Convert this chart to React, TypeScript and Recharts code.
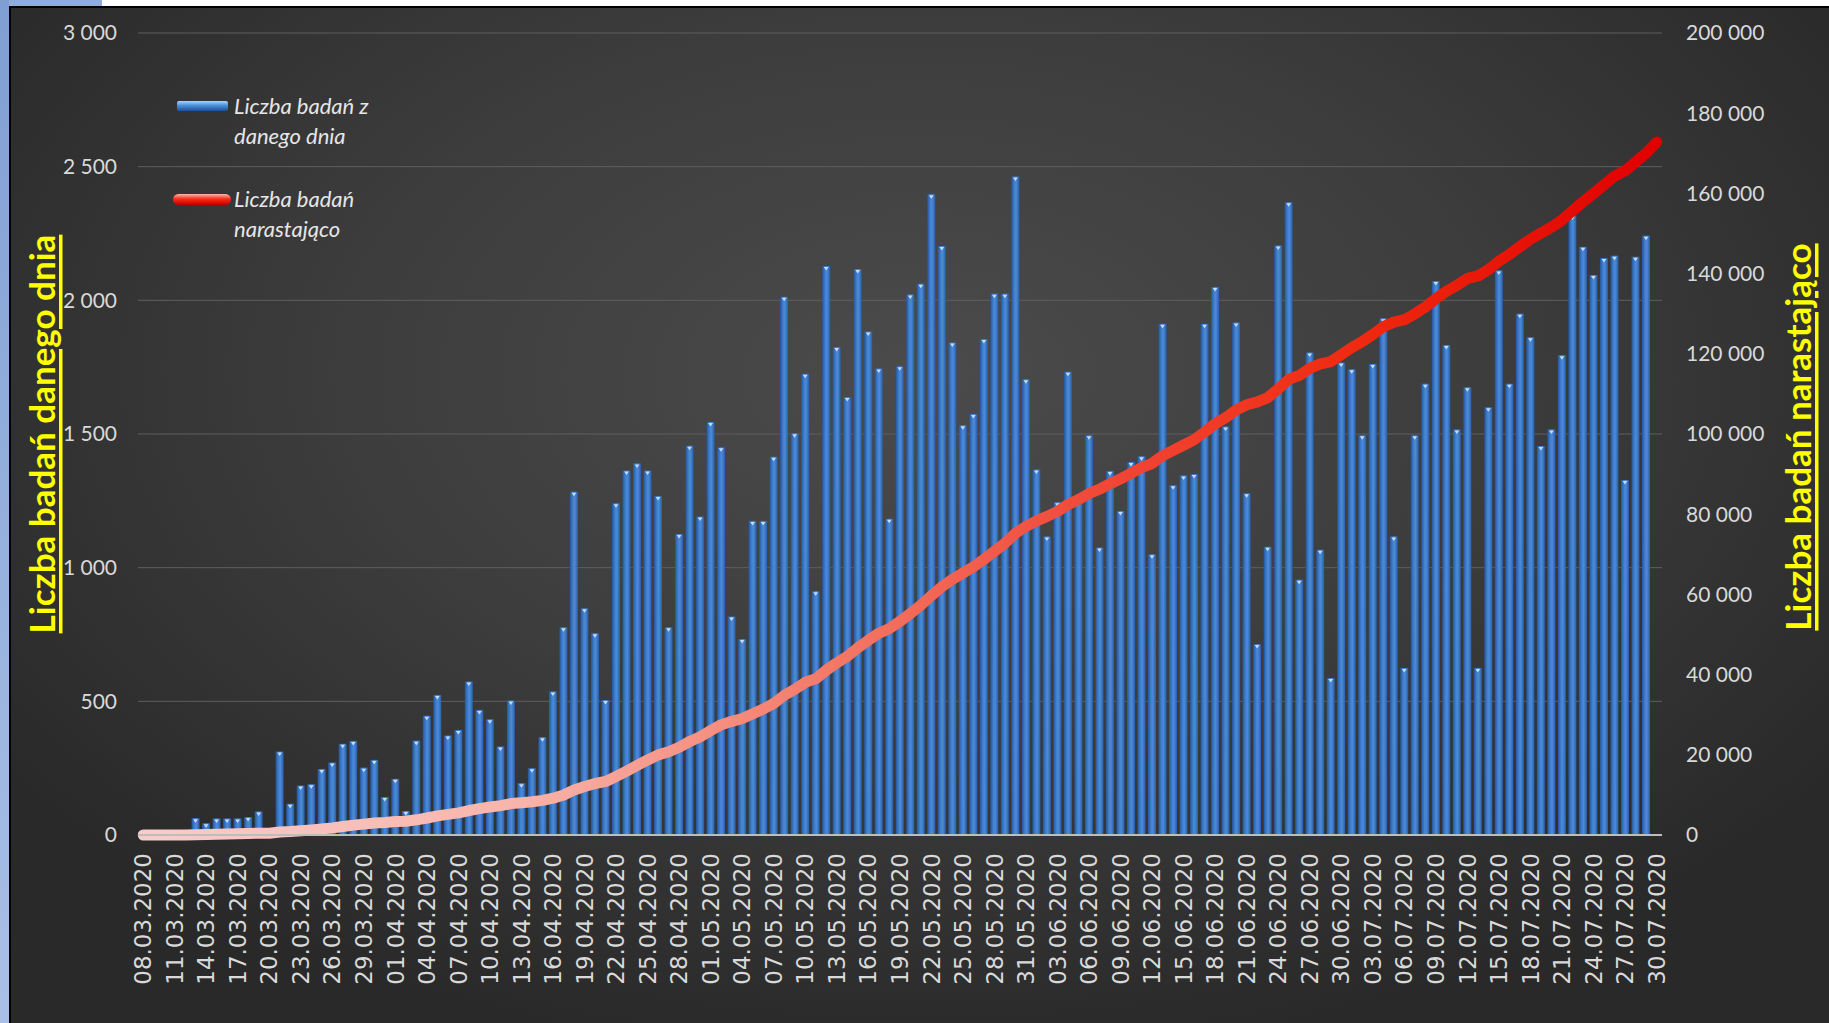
import React from 'react';
import { ComposedChart, Bar, Line, XAxis, YAxis, CartesianGrid } from 'recharts';

const W = 1829;
const H = 1023;

const datesMarch = [
  '08.03.2020', '09.03.2020', '10.03.2020', '11.03.2020', '12.03.2020', '13.03.2020', '14.03.2020', '15.03.2020',
  '16.03.2020', '17.03.2020', '18.03.2020', '19.03.2020', '20.03.2020', '21.03.2020', '22.03.2020', '23.03.2020',
  '24.03.2020', '25.03.2020', '26.03.2020', '27.03.2020', '28.03.2020', '29.03.2020', '30.03.2020', '31.03.2020',
];
const datesApril = [
  '01.04.2020', '02.04.2020', '03.04.2020', '04.04.2020', '05.04.2020', '06.04.2020', '07.04.2020', '08.04.2020',
  '09.04.2020', '10.04.2020', '11.04.2020', '12.04.2020', '13.04.2020', '14.04.2020', '15.04.2020', '16.04.2020',
  '17.04.2020', '18.04.2020', '19.04.2020', '20.04.2020', '21.04.2020', '22.04.2020', '23.04.2020', '24.04.2020',
  '25.04.2020', '26.04.2020', '27.04.2020', '28.04.2020', '29.04.2020', '30.04.2020',
];
const datesMay = [
  '01.05.2020', '02.05.2020', '03.05.2020', '04.05.2020', '05.05.2020', '06.05.2020', '07.05.2020', '08.05.2020',
  '09.05.2020', '10.05.2020', '11.05.2020', '12.05.2020', '13.05.2020', '14.05.2020', '15.05.2020', '16.05.2020',
  '17.05.2020', '18.05.2020', '19.05.2020', '20.05.2020', '21.05.2020', '22.05.2020', '23.05.2020', '24.05.2020',
  '25.05.2020', '26.05.2020', '27.05.2020', '28.05.2020', '29.05.2020', '30.05.2020', '31.05.2020',
];
const datesJune = [
  '01.06.2020', '02.06.2020', '03.06.2020', '04.06.2020', '05.06.2020', '06.06.2020', '07.06.2020', '08.06.2020',
  '09.06.2020', '10.06.2020', '11.06.2020', '12.06.2020', '13.06.2020', '14.06.2020', '15.06.2020', '16.06.2020',
  '17.06.2020', '18.06.2020', '19.06.2020', '20.06.2020', '21.06.2020', '22.06.2020', '23.06.2020', '24.06.2020',
  '25.06.2020', '26.06.2020', '27.06.2020', '28.06.2020', '29.06.2020', '30.06.2020',
];
const datesJuly = [
  '01.07.2020', '02.07.2020', '03.07.2020', '04.07.2020', '05.07.2020', '06.07.2020', '07.07.2020', '08.07.2020',
  '09.07.2020', '10.07.2020', '11.07.2020', '12.07.2020', '13.07.2020', '14.07.2020', '15.07.2020', '16.07.2020',
  '17.07.2020', '18.07.2020', '19.07.2020', '20.07.2020', '21.07.2020', '22.07.2020', '23.07.2020', '24.07.2020',
  '25.07.2020', '26.07.2020', '27.07.2020', '28.07.2020', '29.07.2020', '30.07.2020',
];

// Liczba badań z danego dnia
const dailyMarch = [0, 0, 0, 0, 0, 63, 44, 62, 62, 62, 67, 88, 0, 312, 117, 185, 190, 247, 271, 341, 352, 252, 281, 142];
const dailyApril = [
  210, 90, 353, 446, 524, 372, 393, 574, 468, 433, 331, 503, 194, 250, 366, 537, 777, 1284, 848, 755,
  505, 1241, 1363, 1390, 1363, 1268, 777, 1126, 1456, 1191,
];
const dailyMay = [
  1545, 1450, 817, 733, 1175, 1175, 1415, 2013, 1503, 1725, 912, 2128, 1825, 1638, 2117, 1883, 1745, 1183, 1753, 2022,
  2062, 2397, 2203, 1842, 1533, 1575, 1855, 2025, 2025, 2463, 1705,
];
const dailyJune = [
  1367, 1117, 1245, 1733, 1255, 1495, 1075, 1362, 1212, 1395, 1417, 1050, 1912, 1308, 1345, 1350, 1912, 2050, 1528, 1917,
  1278, 714, 1078, 2205, 2367, 955, 1805, 1067, 587, 1767,
];
const dailyJuly = [
  1742, 1495, 1762, 1933, 1117, 625, 1495, 1688, 2072, 1833, 1517, 1675, 625, 1600, 2112, 1688, 1950, 1862, 1455, 1517,
  1795, 2317, 2200, 2095, 2158, 2167, 1328, 2163, 2242, null,
];

// Liczba badań narastająco
const totalMarch = [0, 0, 0, 0, 0, 63, 107, 169, 231, 293, 360, 448, 448, 760, 877, 1062, 1252, 1499, 1770, 2111, 2463, 2715, 2996, 3138];
const totalApril = [
  3348, 3438, 3791, 4237, 4761, 5133, 5526, 6100, 6568, 7001, 7332, 7835, 8029, 8279, 8645, 9182, 9959, 11243, 12091, 12846,
  13351, 14592, 15955, 17345, 18708, 19976, 20753, 21879, 23335, 24526,
];
const totalMay = [
  26071, 27521, 28338, 29071, 30246, 31421, 32836, 34849, 36352, 38077, 38989, 41117, 42942, 44580, 46697, 48580, 50325,
  51508, 53261, 55283, 57345, 59742, 61945, 63787, 65320, 66895, 68750, 70775, 72800, 75263, 76968,
];
const totalJune = [
  78335, 79452, 80697, 82430, 83685, 85180, 86255, 87617, 88829, 90224, 91641, 92691, 94603, 95911, 97256, 98606, 100518,
  102568, 104096, 106013, 107291, 108005, 109083, 111288, 113655, 114610, 116415, 117482, 118069, 119836,
];
const totalJuly = [
  121578, 123073, 124835, 126768, 127885, 128510, 130005, 131693, 133765, 135598, 137115, 138790, 139415, 141015, 143127,
  144815, 146765, 148627, 150082, 151599, 153394, 155711, 157911, 160006, 162164, 164331, 165659, 167822, 170064, 172800,
];

const leftTicks = [0, 500, 1000, 1500, 2000, 2500, 3000];
const rightTicks = [0, 20000, 40000, 60000, 80000, 100000, 120000, 140000, 160000, 180000, 200000];

const dates = [...datesMarch, ...datesApril, ...datesMay, ...datesJune, ...datesJuly];
const daily = [...dailyMarch, ...dailyApril, ...dailyMay, ...dailyJune, ...dailyJuly];
const total = [...totalMarch, ...totalApril, ...totalMay, ...totalJune, ...totalJuly];

const data = dates.map((date, i) => ({ date, daily: daily[i], total: total[i] }));

const fmt = (n: number) => String(n).replace(/\B(?=(\d{3})+(?!\d))/g, ' ');

const axisFont = { fill: '#d9d9d9', fontSize: 21, fontFamily: 'Lato, sans-serif' };

const DateTick = (props: any) => {
  const { x, y, payload } = props;
  return (
    <g transform={`translate(${x},${y})`}>
      <text
        transform="rotate(-90)"
        textAnchor="end"
        dominantBaseline="central"
        fill="#d9d9d9"
        fontSize={23}
        fontFamily="'DejaVu Sans', sans-serif"
      >
        {payload.value}
      </text>
    </g>
  );
};

const Cylinder = (props: any) => {
  const { x, y, width, height } = props;
  if (!height || height <= 0) return null;
  const cx = x + width / 2;
  return (
    <g>
      <rect x={x} y={y} width={width} height={height} fill="url(#barGrad)" />
      <polygon points={`${cx - width * 0.3},${y + 1} ${cx + width * 0.3},${y + 1} ${cx},${y + 4.5}`} fill="#c4dcf7" />
    </g>
  );
};

export default function App() {
  return (
    <div style={{ position: 'absolute', left: 0, top: 0, width: W, height: H, background: '#fff', overflow: 'hidden' }}>
      <div style={{ position: 'absolute', left: 0, top: 0, width: 102, height: 7, background: '#8eaddd' }} />
      <div
        style={{
          position: 'absolute',
          left: 0,
          top: 0,
          width: 9,
          height: H,
          background: 'linear-gradient(to bottom, #7f9fd2, #a9c0e6)',
        }}
      />
      <div
        style={{
          position: 'absolute',
          left: 9,
          top: 6,
          right: 0,
          bottom: 0,
          borderLeft: '2px solid #000',
          borderTop: '2px solid #000',
          background: 'radial-gradient(ellipse 62% 68% at 50% 36%, #4b4b4b 0%, #3d3d3d 50%, #292929 100%)',
        }}
      />
      <div style={{ position: 'absolute', left: 0, top: 0 }}>
        <ComposedChart
          width={W}
          height={H}
          data={data}
          margin={{ top: 33, right: 67, bottom: 38, left: 78 }}
          barCategoryGap="26%"
        >
          <defs>
            <linearGradient id="barGrad" x1="0" y1="0" x2="1" y2="0">
              <stop offset="0%" stopColor="#24569c" />
              <stop offset="40%" stopColor="#4282d0" />
              <stop offset="60%" stopColor="#4a8ad8" />
              <stop offset="100%" stopColor="#2a5ea6" />
            </linearGradient>
            <linearGradient id="lineGrad" x1="0" y1="0" x2="1" y2="0">
              <stop offset="0%" stopColor="#f9cccc" />
              <stop offset="25%" stopColor="#f8b4aa" />
              <stop offset="45%" stopColor="#f47a68" />
              <stop offset="62%" stopColor="#f04a3a" />
              <stop offset="80%" stopColor="#f02a10" />
              <stop offset="100%" stopColor="#e00000" />
            </linearGradient>
          </defs>
          <CartesianGrid yAxisId="left" vertical={false} stroke="#5e5e5e" strokeWidth={1} />
          <XAxis
            dataKey="date"
            interval={2}
            height={150}
            tick={<DateTick />}
            tickLine={false}
            tickSize={0}
            tickMargin={18}
            axisLine={{ stroke: '#bdbdbd', strokeWidth: 2 }}
          />
          <YAxis
            yAxisId="left"
            orientation="left"
            width={60}
            domain={[0, 3000]}
            ticks={leftTicks}
            tickFormatter={fmt}
            tick={axisFont}
            tickLine={false}
            axisLine={false}
            tickSize={0}
            tickMargin={21}
          />
          <YAxis
            yAxisId="right"
            orientation="right"
            width={100}
            domain={[0, 200000]}
            ticks={rightTicks}
            tickFormatter={fmt}
            tick={axisFont}
            tickLine={false}
            axisLine={false}
            tickSize={0}
            tickMargin={24}
          />
          <Bar yAxisId="left" dataKey="daily" barSize={8} shape={<Cylinder />} isAnimationActive={false} />
          <Line
            yAxisId="right"
            type="linear"
            dataKey="total"
            stroke="url(#lineGrad)"
            strokeWidth={11}
            strokeLinecap="round"
            strokeLinejoin="round"
            dot={false}
            activeDot={false}
            isAnimationActive={false}
          />
        </ComposedChart>
      </div>
      <svg width={W} height={H} style={{ position: 'absolute', left: 0, top: 0, pointerEvents: 'none' }}>
        <defs>
          <linearGradient id="legBlue" x1="0" y1="0" x2="0" y2="1">
            <stop offset="0%" stopColor="#a8d4ff" />
            <stop offset="45%" stopColor="#4c8fdc" />
            <stop offset="100%" stopColor="#1d4f96" />
          </linearGradient>
          <linearGradient id="legRed" x1="0" y1="0" x2="0" y2="1">
            <stop offset="0%" stopColor="#ffb8a8" />
            <stop offset="45%" stopColor="#ff2a1a" />
            <stop offset="100%" stopColor="#b80000" />
          </linearGradient>
        </defs>
        <rect x={177} y={101} width={51} height={10} rx={2} fill="url(#legBlue)" />
        <rect x={173} y={194} width={58} height={11} rx={5.5} fill="url(#legRed)" />
        <g fill="#e6e6e6" fontSize={22} fontStyle="italic" fontFamily="Lato, sans-serif">
          <text x={234} y={114}>Liczba badań z</text>
          <text x={234} y={144}>danego dnia</text>
          <text x={234} y={207}>Liczba badań</text>
          <text x={234} y={237}>narastająco</text>
        </g>
        <text
          x={41}
          y={434}
          transform="rotate(-90 41 434)"
          textAnchor="middle"
          dominantBaseline="central"
          fill="#ffff00"
          fontSize={35}
          fontWeight={700}
          fontFamily="Lato, sans-serif"
          textDecoration="underline"
        >
          Liczba badań danego dnia
        </text>
        <text
          x={1797}
          y={437}
          transform="rotate(-90 1797 437)"
          textAnchor="middle"
          dominantBaseline="central"
          fill="#ffff00"
          fontSize={35}
          fontWeight={700}
          fontFamily="Lato, sans-serif"
          textDecoration="underline"
        >
          Liczba badań narastająco
        </text>
      </svg>
    </div>
  );
}
